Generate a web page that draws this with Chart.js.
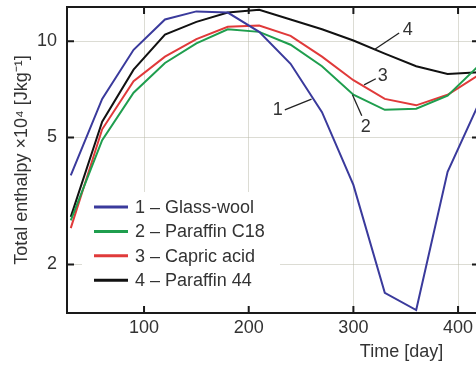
<!DOCTYPE html>
<html>
<head>
<meta charset="utf-8">
<script src="https://cdn.jsdelivr.net/npm/chart.js@4"></script>
<style>
    html, body { margin: 0; padding: 0; overflow: hidden; background: #fff; }
    canvas { display: block; }
</style>
</head>
<body>
<canvas id="enthalpyChart" width="490" height="365"></canvas>
<script>
const days = [30, 60, 90, 120, 150, 180, 210, 240, 270, 300, 330, 360, 390, 420];
const glassWool = [3.8, 6.6, 9.4, 11.7, 12.4, 12.3, 10.7, 8.5, 6.0, 3.55, 1.63, 1.44, 3.9, 6.4];
const paraffinC18 = [2.75, 4.9, 6.9, 8.55, 9.85, 10.9, 10.7, 9.75, 8.35, 6.8, 6.1, 6.15, 6.75, 8.4];
const capricAcid = [2.6, 5.3, 7.5, 8.95, 10.15, 11.1, 11.2, 10.4, 8.95, 7.55, 6.6, 6.3, 6.8, 7.85];
const paraffin44 = [2.82, 5.6, 8.15, 10.5, 11.5, 12.3, 12.55, 11.7, 10.9, 10.05, 9.15, 8.35, 7.9, 8.0];

const seriesNames = ['1 – Glass-wool', '2 – Paraffin C18', '3 – Capric acid', '4 – Paraffin 44'];
const xTicks = [100, 200, 300, 400];
const yTicks = [2, 5, 10];

// curve labels: leader line from/to and text position, in data units
const curveLabels = [
    { text: '1', from: [234.5, 6.10], to: [260, 6.59], at: [227.8, 6.10] },
    { text: '2', from: [299.1, 6.80], to: [308, 5.84], at: [311.8, 5.39] },
    { text: '3', from: [310.2, 7.30], to: [321.4, 7.63], at: [328, 7.79] },
    { text: '4', from: [319.8, 9.40], to: [343.7, 10.61], at: [352, 10.86] }
];

const FONT = 'Liberation Sans, Arial, Helvetica, sans-serif';
const TEXT = '#333';

const framePlugin = {
    id: 'frame',
    beforeDatasetsDraw(chart) {
        // white legend box, sits over the grid
        const { ctx, chartArea: a } = chart;
        ctx.save();
        ctx.fillStyle = '#fff';
        ctx.fillRect(a.left + 15, 192, 198, a.bottom - 194);
        ctx.restore();
    },
    afterDatasetsDraw(chart) {
        const { ctx, chartArea: a, scales: { x, y } } = chart;
        ctx.save();
        ctx.strokeStyle = '#1a1a1a';
        ctx.lineWidth = 2;
        ctx.strokeRect(a.left, a.top, a.right - a.left, a.bottom - a.top);
        ctx.beginPath();
        x.ticks.forEach(t => {
            const px = x.getPixelForValue(t.value);
            ctx.moveTo(px, a.bottom); ctx.lineTo(px, a.bottom - 7);
            ctx.moveTo(px, a.top); ctx.lineTo(px, a.top + 7);
        });
        y.ticks.forEach(t => {
            const py = y.getPixelForValue(t.value);
            ctx.moveTo(a.left, py); ctx.lineTo(a.left + 7, py);
            ctx.moveTo(a.right, py); ctx.lineTo(a.right - 7, py);
        });
        ctx.stroke();

        // legend
        ctx.font = '18px ' + FONT;
        ctx.textBaseline = 'middle';
        ctx.textAlign = 'left';
        chart.data.datasets.forEach((ds, i) => {
            const ly = 207 + i * 24.4;
            ctx.strokeStyle = ds.borderColor;
            ctx.lineWidth = 3;
            ctx.beginPath();
            ctx.moveTo(a.left + 27, ly); ctx.lineTo(a.left + 61, ly);
            ctx.stroke();
            ctx.fillStyle = TEXT;
            ctx.fillText(ds.label, a.left + 68, ly + 1);
        });

        // curve labels
        ctx.strokeStyle = '#222';
        ctx.lineWidth = 1.3;
        ctx.textAlign = 'center';
        curveLabels.forEach(c => {
            ctx.beginPath();
            ctx.moveTo(x.getPixelForValue(c.from[0]), y.getPixelForValue(c.from[1]));
            ctx.lineTo(x.getPixelForValue(c.to[0]), y.getPixelForValue(c.to[1]));
            ctx.stroke();
            ctx.fillStyle = TEXT;
            ctx.fillText(c.text, x.getPixelForValue(c.at[0]), y.getPixelForValue(c.at[1]));
        });

        // x axis title
        ctx.fillText('Time [day]', x.getPixelForValue(346), 352);
        ctx.restore();
    }
};

const ctx = document.getElementById('enthalpyChart').getContext('2d');
const toPoints = arr => arr.map((v, i) => ({ x: days[i], y: v }));

new Chart(ctx, {
    type: 'line',
    data: {
        datasets: [
            { label: seriesNames[0], data: toPoints(glassWool), borderColor: '#3a3a9c' },
            { label: seriesNames[1], data: toPoints(paraffinC18), borderColor: '#1f9e4e' },
            { label: seriesNames[2], data: toPoints(capricAcid), borderColor: '#e03a3a' },
            { label: seriesNames[3], data: toPoints(paraffin44), borderColor: '#111111' }
        ]
    },
    options: {
        responsive: false,
        animation: false,
        devicePixelRatio: 1,
        layout: { padding: { top: 7, right: 11, left: 0, bottom: 0 } },
        elements: {
            line: { borderWidth: 2, tension: 0, fill: false },
            point: { radius: 0 }
        },
        plugins: {
            legend: { display: false },
            tooltip: { enabled: false }
        },
        scales: {
            x: {
                type: 'linear',
                min: 26.4,
                max: 420,
                afterBuildTicks: s => { s.ticks = xTicks.map(v => ({ value: v })); },
                afterFit: s => { s.height = 52; s.paddingLeft = 0; s.paddingRight = 0; },
                grid: { color: 'rgba(185,185,170,0.5)', lineWidth: 1, drawTicks: false },
                border: { display: false },
                ticks: { padding: 4, color: TEXT, font: { size: 18, family: FONT } }
            },
            y: {
                type: 'logarithmic',
                min: 1.41,
                max: 12.8,
                afterBuildTicks: s => { s.ticks = yTicks.map(v => ({ value: v })); },
                afterFit: s => { s.width = 67; s.paddingTop = 0; s.paddingBottom = 0; },
                grid: { color: 'rgba(185,185,170,0.5)', lineWidth: 1, drawTicks: false },
                border: { display: false },
                ticks: {
                    padding: 10,
                    color: TEXT,
                    font: { size: 18, family: FONT },
                    callback: v => String(v)
                },
                title: {
                    display: true,
                    text: 'Total enthalpy ×10⁴ [Jkg⁻¹]',
                    color: TEXT,
                    font: { size: 18, family: FONT },
                    padding: { top: 11, bottom: 0 }
                }
            }
        }
    },
    plugins: [framePlugin]
});
</script>
</body>
</html>
